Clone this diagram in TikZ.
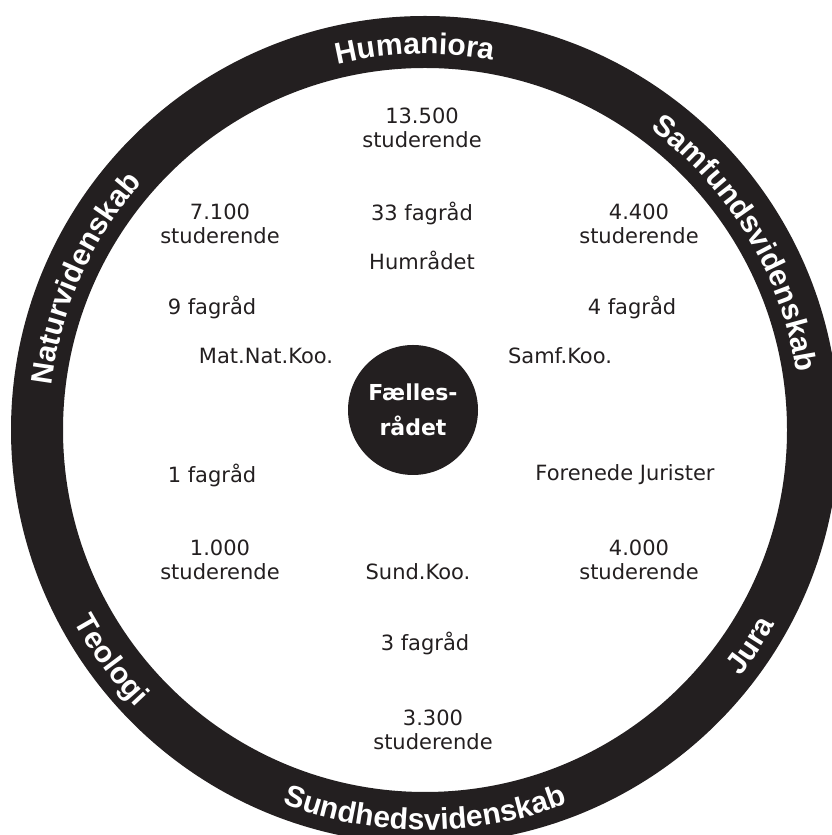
\documentclass[tikz,border=0pt]{standalone}
\usepackage{fontspec}
\setmainfont{DejaVu Sans}
\newfontfamily\ringfont{Liberation Sans}
\usepackage{tikz}
\usetikzlibrary{decorations.text}
\definecolor{ink}{HTML}{231F20}
\tikzset{
x=1pt, y=1pt, % one unit is one pixel of the picture
every node/.style={text=ink, align=center, font=\fontsize{21}{24}\selectfont}, % the plain labels
centre/.style={circle, fill=ink, minimum size=130, text=white, font=\bfseries\fontsize{22}{35}\selectfont}, % the council in the middle
ringtext/.style={decorate, decoration={text along path, text align=center, text color=white,
  text={|\ringfont\bfseries\fontsize{30}{30}\selectfont|#1}}}, % white names on the ring
}
\begin{document}
\begin{tikzpicture}
		\path[use as bounding box] (0,0) rectangle (832,835);
		\clip (0,0) rectangle (832,835);
		\coordinate (ring) at (425,405);
		\fill[ink, even odd rule] (ring) circle[radius=414] (ring) circle[radius=362];

		% names on the ring, top half clockwise, bottom half counterclockwise
		\path[ringtext=Humaniora] ([shift={(131.5:376)}]ring) arc[start angle=131.5, end angle=51.5, radius=376];
		\path[ringtext=Samfundsvidenskab] ([shift={(71:376)}]ring) arc[start angle=71, end angle=-9, radius=376];
		\path[ringtext=Naturvidenskab] ([shift={(196:376)}]ring) arc[start angle=196, end angle=116, radius=376];
		\path[ringtext=Sundhedsvidenskab] ([shift={(-130:400)}]ring) arc[start angle=-130, end angle=-50, radius=400];
		\path[ringtext=Teologi] ([shift={(-183.8:400)}]ring) arc[start angle=-183.8, end angle=-103.8, radius=400];
		\path[ringtext=Jura] ([shift={(-73.5:400)}]ring) arc[start angle=-73.5, end angle=6.5, radius=400];

		\node[centre] (faelles) at (413,425) {Fælles-\\rådet};

		\node (humstud) at (422,707) {13.500\\studerende};
		\node (humfag) at (422,622) {33 fagråd};
		\node (humraad) at (422,575) {Humrådet};
		\node (natstud) at (220,611) {7.100\\studerende};
		\node (natfag) at (212,528) {9 fagråd};
		\node (matnat) at (266,479) {Mat.Nat.Koo.};
		\node (samfstud) at (639,611) {4.400\\studerende};
		\node (samffag) at (632,528) {4 fagråd};
		\node (samfkoo) at (560,479) {Samf.Koo.};
		\node (teofag) at (212,360) {1 fagråd};
		\node (teostud) at (220,275) {1.000\\studerende};
		\node (jurister) at (625,360) {Forenede Jurister};
		\node (jurastud) at (639,275) {4.000\\studerende};
		\node (sundkoo) at (418,263) {Sund.Koo.};
		\node (sundfag) at (425,192) {3 fagråd};
		\node (sundstud) at (433,105) {3.300\\studerende};
	\end{tikzpicture}
\end{document}
